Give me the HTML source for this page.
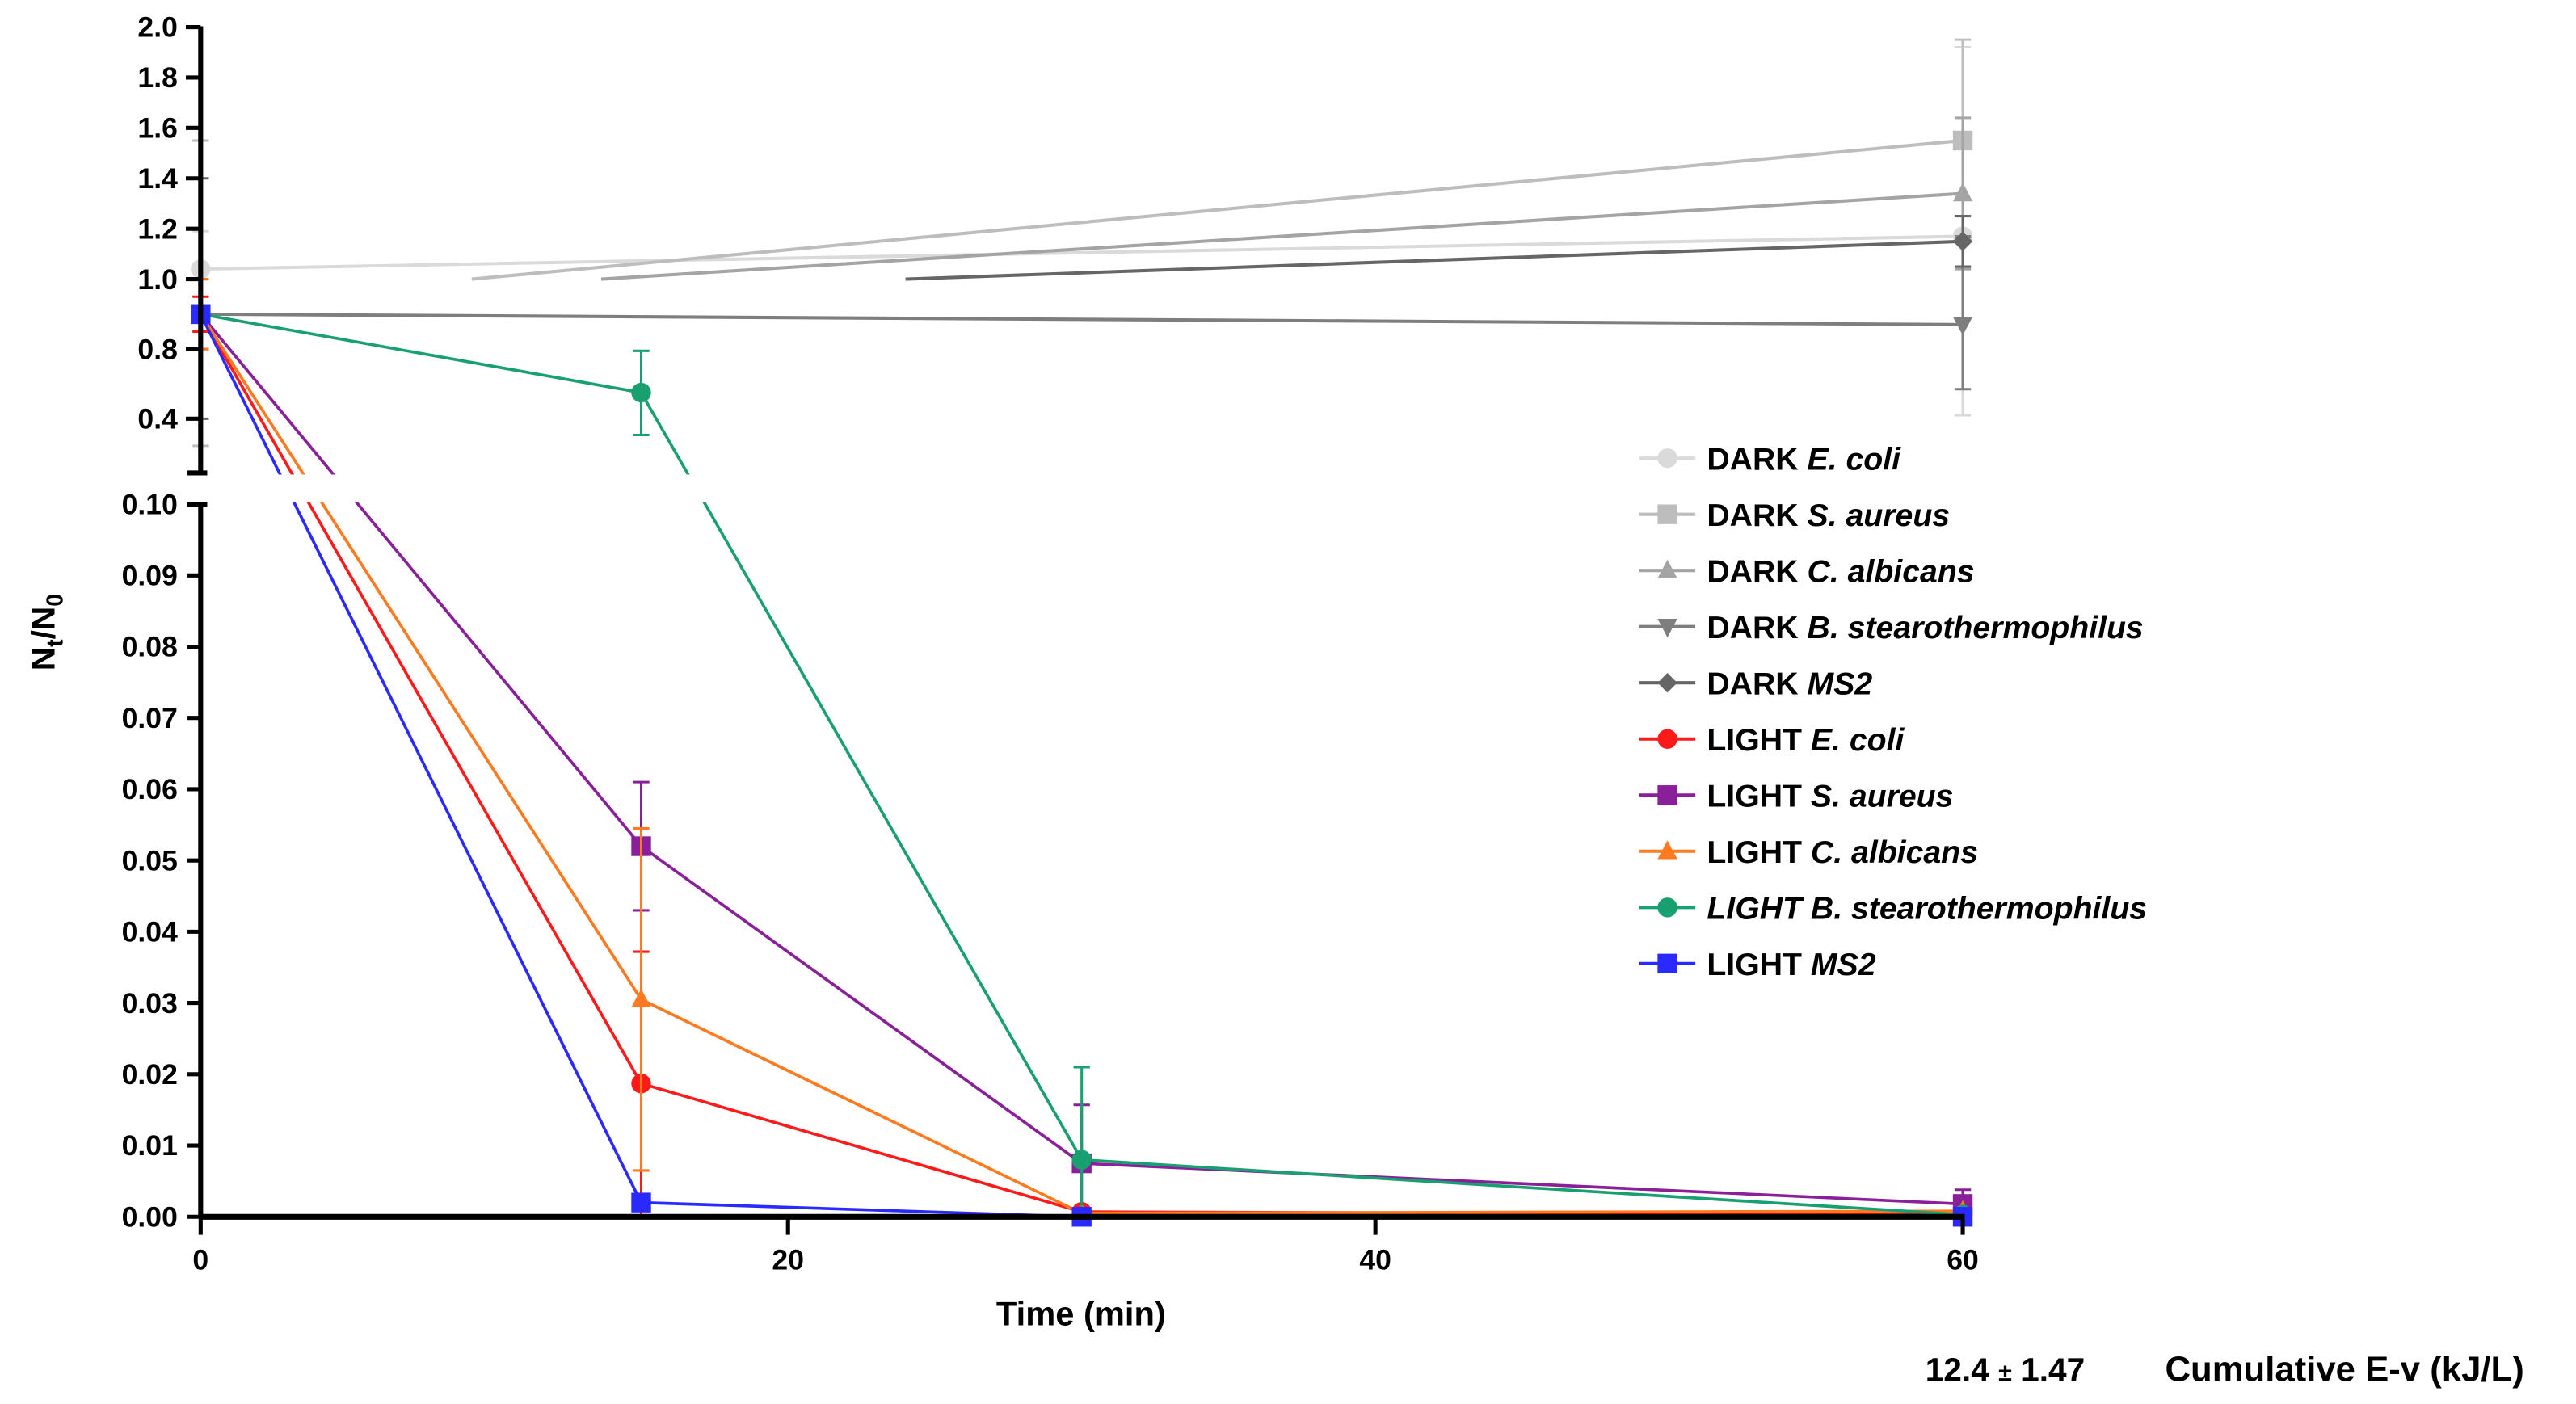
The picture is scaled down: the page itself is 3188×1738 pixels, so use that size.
<!DOCTYPE html>
<html><head><meta charset="utf-8"><style>
html,body{margin:0;padding:0;background:#fff;}
svg{display:block;}
text{font-family:"Liberation Sans",Arial,sans-serif;font-weight:bold;fill:#000;}
</style></head><body>
<svg id="chart" xmlns="http://www.w3.org/2000/svg" width="3188" height="1738" viewBox="0 0 1568 855">
<rect width="1568" height="855" fill="#fff"/>
<g id="series"></g>
<rect x="110" y="289" width="1200" height="17" fill="#fff"/>
<g id="axes"></g>
<g id="legend"></g>
<text x="658" y="807" font-size="20.5" text-anchor="middle">Time (min)</text>
<text transform="translate(33,385) rotate(-90)" font-size="20" text-anchor="middle">N<tspan font-size="14" dy="5">t</tspan><tspan dy="-5">/N</tspan><tspan font-size="14" dy="5">0</tspan></text>
<text x="1172" y="841" font-size="20">12.4 <tspan font-size="15">±</tspan> 1.47</text>
<text x="1318" y="841" font-size="21.5">Cumulative E-v (kJ/L)</text>
</svg>
<script>
const times=[0,15,30,60];
const seriesNames=["DARK E. coli","DARK S. aureus","DARK C. albicans","DARK B. stearothermophilus","DARK MS2","LIGHT E. coli","LIGHT S. aureus","LIGHT C. albicans","LIGHT B. stearothermophilus","LIGHT MS2"];
const darkEcoli=[1.04,null,null,1.17];
const darkSaureus=[0.9,null,null,1.55];
const darkCalbicans=[0.9,null,null,1.34];
const darkBstearo=[0.9,null,null,0.87];
const darkMS2=[0.9,null,null,1.15];
const lightEcoli=[0.9,0.0187,0.0007,0.0003];
const lightSaureus=[0.9,0.052,0.0075,0.0018];
const lightCalbicans=[0.9,0.0305,0.0005,0.0008];
const lightBstearo=[0.9,0.55,0.008,0.0003];
const lightMS2=[0.9,0.002,0.0,0.0];
const darkEcoliErr=[0.15,null,null,0.75];
const darkSaureusErr=[0.65,null,null,0.4];
const darkCalbicansErr=[0.1,null,null,0.3];
const darkBstearoErr=[0.1,null,null,0.3];
const darkMS2Err=[0.5,null,null,0.1];
const lightEcoliErr=[0.05,0.0185,0,0];
const lightSaureusErr=[0,0.009,0.0082,0.002];
const lightCalbicansErr=[0.1,0.024,0,0];
const lightBstearoErr=[0,0.24,0.013,0];
const lightMS2Err=[0,0,0,0];
const lowerTicks=["0.00","0.01","0.02","0.03","0.04","0.05","0.06","0.07","0.08","0.09","0.10"];
const upperTicks=["2.0","1.8","1.6","1.4","1.2","1.0","0.8","0.4"];
const xTicks=["0","20","40","60"];

const values=[darkEcoli,darkSaureus,darkCalbicans,darkBstearo,darkMS2,lightEcoli,lightSaureus,lightCalbicans,lightBstearo,lightMS2];
const errs=[darkEcoliErr,darkSaureusErr,darkCalbicansErr,darkBstearoErr,darkMS2Err,lightEcoliErr,lightSaureusErr,lightCalbicansErr,lightBstearoErr,lightMS2Err];
const colors=["#dadada","#bdbdbd","#a4a4a4","#7e7e7e","#666666","#ff1a1a","#8a1f9a","#ff7a1f","#19a070","#2a2aff"];
const shapes=["circle","square","tri","dtri","diamond","circle","square","tri","circle","square"];
const NS="http://www.w3.org/2000/svg";
function X(t){return 122+t*17.88;}
const upMap=[[0.1,288],[0.4,255],[0.8,212.6],[1.0,170],[2.0,16.5]];
function Y(v){
  if(v<=0.1) return 741-v*4340;
  for(let i=0;i<upMap.length-1;i++){const a=upMap[i],b=upMap[i+1];
    if(v<=b[0]||i==upMap.length-2) return a[1]+(v-a[0])/(b[0]-a[0])*(b[1]-a[1]);}
}
function el(tag,attrs,parent){const e=document.createElementNS(NS,tag);for(const k in attrs)e.setAttribute(k,attrs[k]);parent.appendChild(e);return e;}
function marker(shape,x,y,r,col,parent){
  let m;
  if(shape=="circle") m=el("circle",{cx:x,cy:y,r:r,fill:col},parent);
  else if(shape=="square") m=el("rect",{x:x-r,y:y-r,width:2*r,height:2*r,fill:col},parent);
  else if(shape=="tri") m=el("polygon",{points:`${x},${y-r*1.1} ${x-r},${y+r*0.8} ${x+r},${y+r*0.8}`,fill:col},parent);
  else if(shape=="dtri") m=el("polygon",{points:`${x},${y+r*1.1} ${x-r},${y-r*0.8} ${x+r},${y-r*0.8}`,fill:col},parent);
  else m=el("polygon",{points:`${x},${y-r} ${x+r},${y} ${x},${y+r} ${x-r},${y}`,fill:col},parent);
  return m;
}
const sg=document.getElementById("series");
values.forEach((vals,si)=>{
  const g=el("g",{},sg);
  
  
  const col=colors[si];const dark=si<5;
  const pts=[];times.forEach((t,i)=>{if(vals[i]!=null)pts.push([t,vals[i],errs[si][i]]);});
  for(let i=0;i<pts.length-1;i++){
    let [t0,v0]=pts[i],[t1,v1]=pts[i+1];
    if(dark&&v0<1&&v1>1){t0=t0+(t1-t0)*(1-v0)/(v1-v0);v0=1;}
    const ln=el("line",{x1:X(t0),y1:Y(v0),x2:X(t1),y2:Y(v1),stroke:col,"stroke-width":dark?2:1.8},g);
    
    
  }
  pts.forEach(([t,v,e])=>{
    if(e){const lo=Math.max(0,v-e),hi=v+e;
      el("line",{x1:X(t),y1:Y(lo),x2:X(t),y2:Y(hi),stroke:col,"stroke-width":1.5},g);
      el("line",{x1:X(t)-5,y1:Y(lo),x2:X(t)+5,y2:Y(lo),stroke:col,"stroke-width":1.5},g);
      el("line",{x1:X(t)-5,y1:Y(hi),x2:X(t)+5,y2:Y(hi),stroke:col,"stroke-width":1.5},g);}
    const m=marker(shapes[si],X(t),Y(v),6,col,g);
    
    
  });
});
const ax=document.getElementById("axes");
el("line",{x1:122,y1:741,x2:1196,y2:741,stroke:"#000","stroke-width":3.5},ax);
el("line",{x1:122,y1:306,x2:122,y2:742,stroke:"#000","stroke-width":3},ax);
el("line",{x1:114,y1:307,x2:126,y2:307,stroke:"#000","stroke-width":3},ax);
el("line",{x1:122,y1:16,x2:122,y2:288,stroke:"#000","stroke-width":3},ax);
el("line",{x1:114,y1:288,x2:126,y2:288,stroke:"#000","stroke-width":3},ax);
lowerTicks.forEach(l=>{const y=Y(parseFloat(l));
  el("line",{x1:114,y1:y,x2:122,y2:y,stroke:"#000","stroke-width":2.5},ax);
  const t=el("text",{x:108,y:y+6,"font-size":17.5,"text-anchor":"end"},ax);t.textContent=l;
  
  });
upperTicks.forEach(l=>{const y=Y(parseFloat(l));
  el("line",{x1:113,y1:y,x2:122,y2:y,stroke:"#000","stroke-width":2.5},ax);
  const t=el("text",{x:108,y:y+6,"font-size":17.5,"text-anchor":"end"},ax);t.textContent=l;
  
  });
xTicks.forEach(l=>{const x=X(parseFloat(l));
  el("line",{x1:x,y1:741,x2:x,y2:752,stroke:"#000","stroke-width":2.5},ax);
  const t=el("text",{x:x,y:773,"font-size":17.5,"text-anchor":"middle"},ax);t.textContent=l;
  
  });
const lg=document.getElementById("legend");
seriesNames.forEach((n,i)=>{
  const y=279+i*34.2;const g=el("g",{},lg);
  
  
  el("line",{x1:998,y1:y,x2:1032,y2:y,stroke:colors[i],"stroke-width":2},g);
  marker(shapes[i],1015,y,6,colors[i],g);
  const sp=n.indexOf(" ");const pre=n.slice(0,sp),sp2=n.slice(sp+1);
  const t=el("text",{x:1039,y:y+7,"font-size":19.3},g);
  if(i==8)t.setAttribute("font-style","italic");
  const a=el("tspan",{},t);a.textContent=pre+" ";
  const b=el("tspan",{"font-style":"italic"},t);b.textContent=sp2;
});
</script>
</body></html>
